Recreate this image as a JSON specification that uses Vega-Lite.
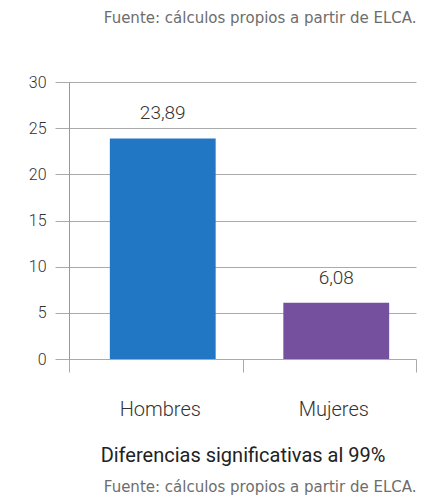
{
  "$schema": "https://vega.github.io/schema/vega-lite/v6.json",
  "padding": {"left": 28, "top": 11, "right": 9, "bottom": 0},
  "background": "white",
  "config": {
    "locale": {"number": {"decimal": ",", "thousands": ".", "grouping": [3], "currency": ["", " €"]}},
    "view": {"stroke": null},
    "font": "Roboto"
  },
  "title": {"text": "Fuente: cálculos propios a partir de ELCA.", "orient": "top", "anchor": "end", "font": "DejaVu Sans", "fontSize": 15, "fontWeight": "normal", "color": "#6d6d6d", "offset": 48},
  "vconcat": [
    {
      "width": 347,
      "height": 277,
      "title": {"text": "Fuente: cálculos propios a partir de ELCA.", "orient": "bottom", "anchor": "end", "font": "DejaVu Sans", "fontSize": 15, "fontWeight": "normal", "color": "#6d6d6d", "offset": 15},
      "data": {"values": [
        {"sexo": "Hombres", "valor": 23.89},
        {"sexo": "Mujeres", "valor": 6.08}
      ]},
      "encoding": {
        "x": {
          "field": "sexo", "type": "nominal", "sort": null,
          "scale": {"paddingInner": 0, "paddingOuter": 0},
          "axis": {
            "title": "Diferencias significativas al 99%",
            "titleFont": "Roboto", "titleFontSize": 20, "titleFontWeight": "normal", "titleColor": "#222222", "titlePadding": 26,
            "labelAngle": 0, "labelFont": "Roboto", "labelFontSize": 20, "labelFontWeight": 300, "labelColor": "#333333",
            "labelPadding": 27, "labelOffset": 4,
            "tickSize": 13, "tickBand": "extent", "tickColor": "#aaaaaa",
            "domain": false, "grid": false
          }
        },
        "y": {
          "field": "valor", "type": "quantitative",
          "scale": {"domain": [0, 30]},
          "axis": {
            "title": null, "values": [0, 5, 10, 15, 20, 25, 30],
            "grid": true, "gridColor": "#aaaaaa", "tickColor": "#aaaaaa", "tickSize": 14,
            "domainColor": "#999999",
            "labelFont": "Roboto", "labelFontSize": 16, "labelFontWeight": 300, "labelColor": "#333333", "labelPadding": 9
          }
        }
      },
      "layer": [
        {
          "mark": {"type": "bar", "xOffset": 7, "width": {"band": 0.61}},
          "encoding": {
            "color": {"field": "sexo", "type": "nominal", "scale": {"range": ["#2277c4", "#74509e"]}, "legend": null}
          }
        },
        {
          "mark": {"type": "text", "baseline": "alphabetic", "dy": -19, "xOffset": 7, "fontSize": 19, "fontWeight": 300, "color": "#333333", "font": "Roboto"},
          "encoding": {"text": {"field": "valor", "type": "quantitative", "format": ",.2f"}}
        }
      ]
    }
  ]
}
